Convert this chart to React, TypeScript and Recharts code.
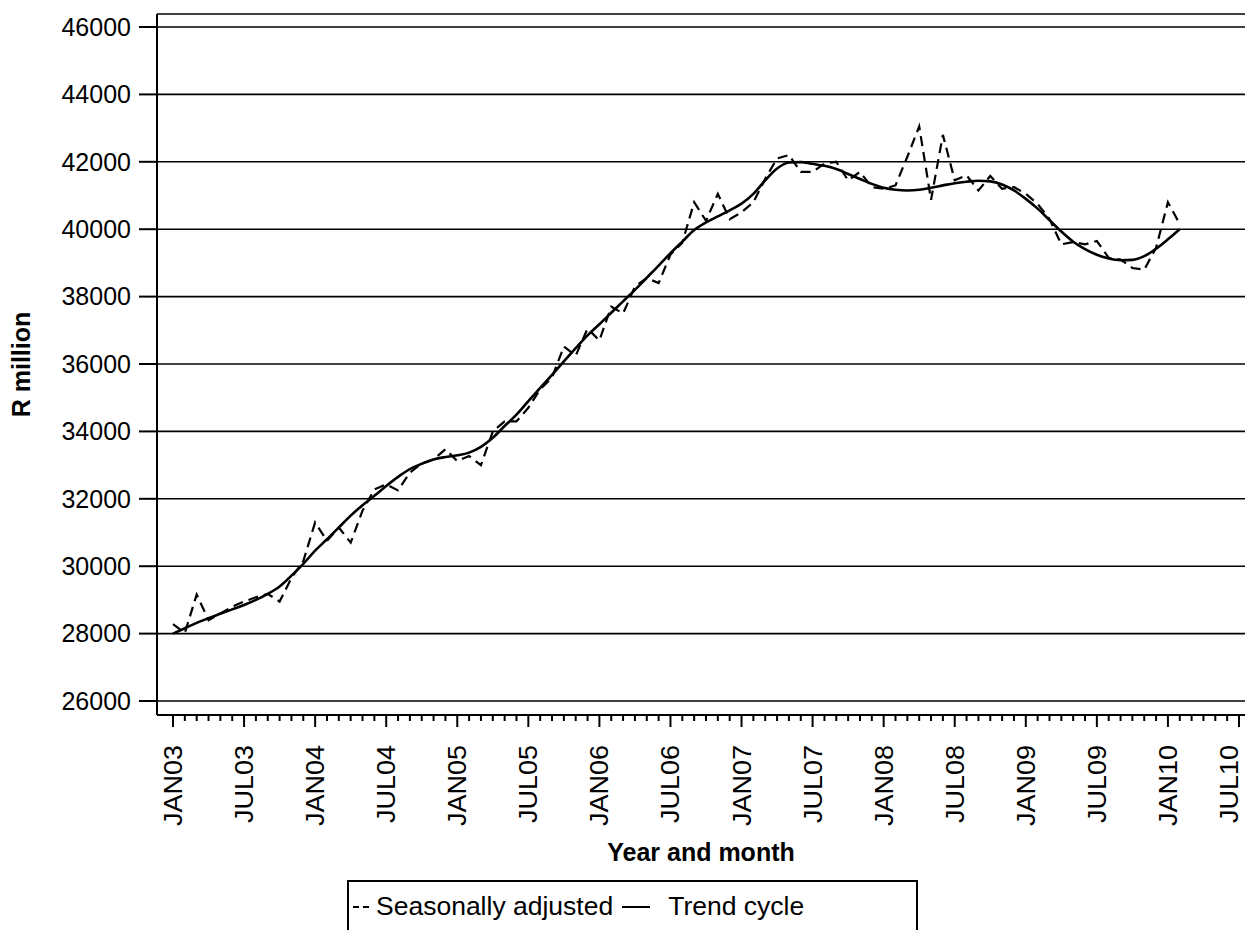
import React from "react";
import { CartesianGrid, Line, LineChart, XAxis, YAxis } from "recharts";

// Monthly series, JAN03 .. FEB10 (index 0 = JAN03), R million
const SEASONALLY_ADJUSTED = [
  28280, 28020, 29160, 28400, 28600, 28800, 28950, 29080, 29180, 28950, 29650, 30150,
  31300, 30750, 31150, 30700, 31650, 32280, 32430, 32250, 32780, 33050, 33170, 33470,
  33120, 33270, 33000, 34000, 34300, 34300, 34700, 35250, 35600, 36520, 36250, 37050,
  36700, 37700, 37500, 38300, 38550, 38400, 39250, 39600, 40800, 40250, 41050, 40300,
  40500, 40800, 41500, 42100, 42200, 41700, 41700, 41950, 42000, 41450, 41700, 41250,
  41200, 41300, 42150, 43050, 40870, 42800, 41450, 41600, 41150, 41580, 41200, 41250,
  41050, 40750, 40300, 39550, 39620, 39550, 39650, 39150, 39100, 38850, 38800, 39450,
  40800, 40150,
];

const TREND_CYCLE = [
  28000, 28160, 28320, 28460, 28590, 28720, 28850, 29000, 29180, 29400, 29720, 30070,
  30460, 30800, 31150, 31500, 31810, 32090, 32380, 32650, 32880, 33040, 33170, 33240,
  33290, 33370, 33540, 33810, 34160, 34500, 34900, 35290, 35680, 36080, 36470, 36850,
  37180, 37520, 37860, 38200, 38560, 38920, 39290, 39630, 39975, 40200, 40380, 40560,
  40760, 41050, 41450, 41800, 41980, 41990, 41940, 41880, 41785, 41640, 41490, 41345,
  41230, 41170, 41150, 41170, 41230, 41300, 41365, 41410, 41440, 41420, 41325, 41150,
  40900, 40610, 40270, 39930, 39630, 39410, 39240, 39130, 39080, 39090, 39200, 39420,
  39700, 40000,
];

// one label every six months, the rest are minor ticks
const TICK_LABELS = [
  "JAN03", "JUL03", "JAN04", "JUL04", "JAN05", "JUL05", "JAN06", "JUL06",
  "JAN07", "JUL07", "JAN08", "JUL08", "JAN09", "JUL09", "JAN10", "JUL10",
];
const Y_TICKS = [26000, 28000, 30000, 32000, 34000, 36000, 38000, 40000, 42000, 44000, 46000];

const FONT = "'Liberation Sans', Arial, sans-serif";
const INK = "#000";
const CHART_W = 1245;

const data = SEASONALLY_ADJUSTED.map((v, i) => ({ m: i, sa: v, trend: TREND_CYCLE[i] }));
const monthTicks = Array.from({ length: TICK_LABELS.length * 6 - 5 }, (_, i) => i);

function MonthTick({ x, y, payload }: any) {
  const i = payload.value as number;
  const major = i % 6 === 0;
  // last label sits right on the page edge; keep its glyphs (and descent) inside
  const bx = Math.min(x + 9, CHART_W - 7);
  return (
    <g>
      <line x1={x} y1={y} x2={x} y2={y + (major ? 12 : 6)} stroke={INK} strokeWidth={2} />
      {major && (
        <text
          transform={`translate(${bx},${y + 30}) rotate(-90) scale(1.08,1)`}
          textAnchor="end"
          fontSize={25}
          fontFamily={FONT}
          fill={INK}
        >
          {TICK_LABELS[i / 6]}
        </text>
      )}
    </g>
  );
}

export default function App() {
  return (
    <div style={{ position: "absolute", left: 0, top: 0, width: CHART_W, height: 930, background: "#fff", overflow: "hidden" }}>
      <LineChart width={CHART_W} height={930} data={data} margin={{ top: 14, right: 0, bottom: 0, left: 0 }}>
        <CartesianGrid vertical={false} stroke={INK} strokeWidth={1.6} />
        <XAxis
          xAxisId="top"
          orientation="top"
          type="number"
          dataKey="m"
          domain={[-1.351, 90.507]}
          allowDataOverflow
          height={0}
          tick={false}
          tickLine={false}
          axisLine={{ stroke: INK, strokeWidth: 2 }}
        />
        <XAxis
          type="number"
          dataKey="m"
          domain={[-1.351, 90.507]}
          allowDataOverflow
          ticks={monthTicks}
          interval={0}
          height={215}
          tickSize={0}
          tickMargin={0}
          tickLine={false}
          tick={<MonthTick />}
          axisLine={{ stroke: INK, strokeWidth: 2 }}
          label={({ viewBox }: any) => (
            <text
              x={viewBox.x + viewBox.width / 2}
              y={viewBox.y + 146}
              textAnchor="middle"
              fontSize={25}
              fontWeight="bold"
              fontFamily={FONT}
              fill={INK}
            >
              Year and month
            </text>
          )}
        />
        <YAxis
          type="number"
          domain={[25585, 46386]}
          allowDataOverflow
          ticks={Y_TICKS}
          interval={0}
          width={157}
          tickSize={18}
          tickMargin={8}
          tick={{ fill: INK, fontSize: 25, fontFamily: FONT }}
          tickLine={{ stroke: INK, strokeWidth: 2 }}
          axisLine={{ stroke: INK, strokeWidth: 2 }}
          label={({ viewBox }: any) => (
            <text
              transform={`translate(${viewBox.x + 30},${viewBox.y + viewBox.height / 2}) rotate(-90)`}
              textAnchor="middle"
              fontSize={25}
              fontWeight="bold"
              fontFamily={FONT}
              fill={INK}
            >
              R million
            </text>
          )}
        />
        <Line
          dataKey="sa"
          name="Seasonally adjusted"
          type="linear"
          stroke={INK}
          strokeWidth={2.2}
          strokeDasharray="10 6"
          dot={false}
          isAnimationActive={false}
        />
        <Line
          dataKey="trend"
          name="Trend cycle"
          type="monotone"
          stroke={INK}
          strokeWidth={2.6}
          dot={false}
          isAnimationActive={false}
        />
      </LineChart>
      <div
        style={{
          position: "absolute",
          left: 347,
          top: 880,
          width: 571,
          height: 70,
          border: `2px solid ${INK}`,
          boxSizing: "border-box",
          fontFamily: FONT,
          fontSize: 26.5,
          color: INK,
          display: "flex",
          alignItems: "flex-start",
          paddingTop: 9,
          paddingLeft: 4,
          whiteSpace: "nowrap",
        }}
      >
        <svg width={16} height={28} style={{ marginRight: 7 }}>
          <line x1={0} y1={16} x2={16} y2={16} stroke={INK} strokeWidth={2} strokeDasharray="6 4" />
        </svg>
        <span>Seasonally adjusted</span>
        <svg width={28} height={28} style={{ marginLeft: 9, marginRight: 18 }}>
          <line x1={0} y1={16} x2={28} y2={16} stroke={INK} strokeWidth={2} />
        </svg>
        <span>Trend cycle</span>
      </div>
    </div>
  );
}
